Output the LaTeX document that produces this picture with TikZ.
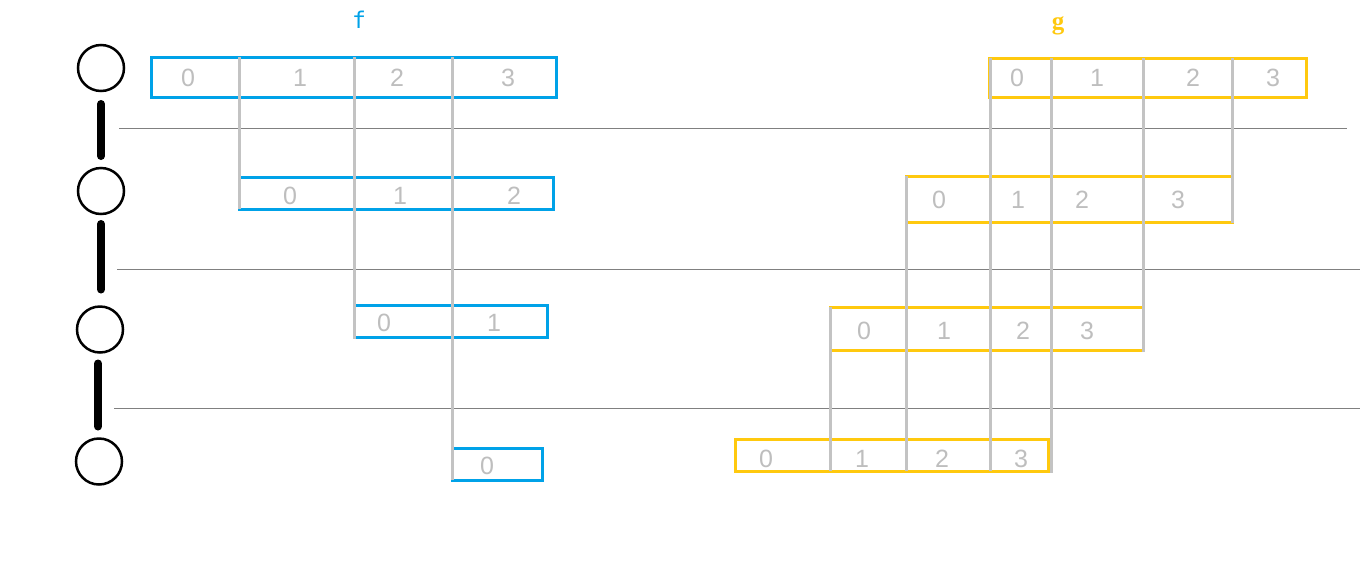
\documentclass[tikz,border=0pt]{standalone}
\usepackage{fontspec}
\setmainfont{Liberation Sans}
\newfontfamily\monofnt{DejaVu Sans Mono}
\newfontfamily\seriffnt{Liberation Serif}
\definecolor{fblue}{HTML}{00A2E8}
\definecolor{gyellow}{HTML}{FFC90E}
\definecolor{vgray}{HTML}{C3C3C3}
\definecolor{hgray}{HTML}{808080}
\definecolor{dgray}{HTML}{BEBEBE}
\begin{document}
\begin{tikzpicture}[x=1pt,y=-1pt,
  level/.style={draw, circle, line width=2.5pt, minimum size=46pt, inner sep=0pt, outer sep=0pt},
  bar/.style={line width=8pt, line cap=round},
  sep/.style={draw=hgray, line width=1pt},
  fbox/.style={draw=fblue, line width=3pt, inner sep=0pt, outer sep=0pt, anchor=north west},
  gbox/.style={draw=gyellow, line width=3pt, inner sep=0pt, outer sep=0pt, anchor=north west},
  vline/.style={draw=vgray, line width=3pt},
  num/.style={text=dgray, font=\fontsize{25}{25}\selectfont, inner sep=0pt},
]
\useasboundingbox (0,0) rectangle (1360,571);
\fill[white] (0,0) rectangle (1360,571);

% level circles and bars
\node[level] (c1) at (101,68) {};
\node[level] (c2) at (101,191) {};
\node[level] (c3) at (100,329.5) {};
\node[level] (c4) at (99,461.5) {};
\draw[bar, shorten <=13pt, shorten >=12pt] (c1.south) -- (c1.south |- c2.north);
\draw[bar, shorten <=10pt, shorten >=17pt] (c2.south) -- (c2.south |- c3.north);
\draw[bar, shorten <=11pt, shorten >=12pt] ([xshift=-2pt]c3.south) -- ([xshift=-2pt]c3.south |- c4.north);

% separators
\draw[sep] (119,128) -- (1347,128);
\draw[sep] (117,269) -- (1360,269);
\draw[sep] (114,408) -- (1360,408);

% titles
\node[text=fblue, font=\monofnt\fontsize{23}{23}\selectfont] (ft) at (359,20) {f};
\node[text=gyellow, font=\seriffnt\bfseries\fontsize{25}{25}\selectfont] (gt) at (1058,26) {g};

% f boxes
\node[fbox, minimum width=405pt, minimum height=40pt] (f1) at (151,57) {};
\node[fbox, minimum width=314pt, minimum height=32pt] (f2) at (239,177) {};
\node[fbox, minimum width=193pt, minimum height=32pt] (f3) at (354,305) {};
\node[fbox, minimum width=90pt, minimum height=32pt] (f4) at (452,448) {};

% g boxes
\node[gbox, minimum width=317pt, minimum height=39pt] (g1) at (989,58) {};
\node[gbox, minimum width=326pt, minimum height=46pt] (g2) at (906,176) {};
\node[gbox, minimum width=313pt, minimum height=43pt] (g3) at (830,307) {};
\node[gbox, minimum width=313pt, minimum height=32pt] (g4) at (735,439) {};

% vertical gray lines (f)
\draw[vline] (239,57) -- (239,209);
\draw[vline] (354,57) -- (354,339);
\draw[vline] (452,57) -- (452,480);
% vertical gray lines (g)
\draw[vline] (830,307) -- (830,471);
\draw[vline] (906,176) -- (906,471);
\draw[vline] (990,58) -- (990,471);
\draw[vline] (1051,58) -- (1051,473);
\draw[vline] (1143,58) -- (1143,352);
\draw[vline] (1232,58) -- (1232,223);

% f digits
\node[num] (f10) at (188,78) {0};
\node[num] (f11) at (300,78) {1};
\node[num] (f12) at (397,78) {2};
\node[num] (f13) at (508,78) {3};
\node[num] (f20) at (290,196) {0};
\node[num] (f21) at (400,196) {1};
\node[num] (f22) at (514,196) {2};
\node[num] (f30) at (384,322.5) {0};
\node[num] (f31) at (494,322.5) {1};
\node[num] (f40) at (487,465.5) {0};

% g digits
\node[num] (g10) at (1017,78) {0};
\node[num] (g11) at (1097,78) {1};
\node[num] (g12) at (1193,78) {2};
\node[num] (g13) at (1273,78) {3};
\node[num] (g20) at (939,200) {0};
\node[num] (g21) at (1018,200) {1};
\node[num] (g22) at (1082,200) {2};
\node[num] (g23) at (1178,200) {3};
\node[num] (g30) at (864,331) {0};
\node[num] (g31) at (944,331) {1};
\node[num] (g32) at (1023,331) {2};
\node[num] (g33) at (1087,331) {3};
\node[num] (g40) at (766,459) {0};
\node[num] (g41) at (862,459) {1};
\node[num] (g42) at (942,459) {2};
\node[num] (g43) at (1021,459) {3};
\end{tikzpicture}
\end{document}
